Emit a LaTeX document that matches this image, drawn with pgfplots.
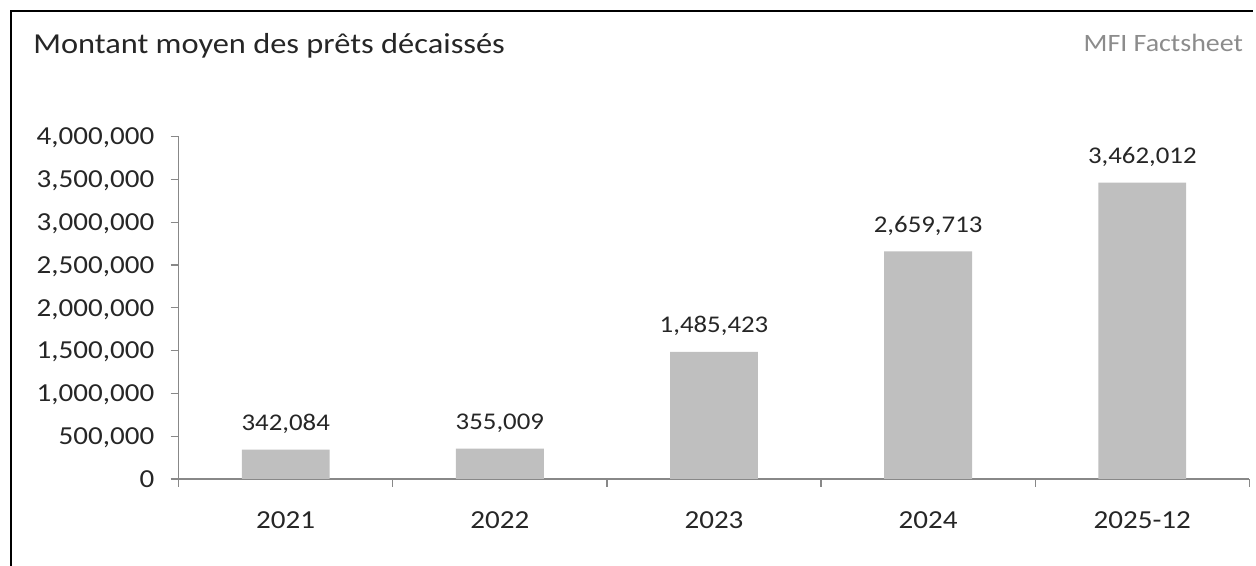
\documentclass[border=0pt]{standalone}
\usepackage{fontspec}
\setmainfont{Carlito}[FakeStretch=1.12]
\usepackage{pgfplots}
\pgfplotsset{compat=1.18}
\definecolor{bargray}{HTML}{BFBFBF}
\definecolor{axgray}{HTML}{888888}
\definecolor{mfigray}{HTML}{8C8C8C}
\begin{document}
\begin{tikzpicture}
\begin{axis}[
  at={(0pt,0pt)}, anchor=south west, scale only axis,
  width=536.5pt, height=171.5pt,
  xmin=-0.5, xmax=4.5, ymin=0, ymax=4000000,
  axis x line=bottom, axis y line=left,
  axis line style={axgray, -, line width=0.6pt},
  tick style={axgray, line width=0.6pt},
  tick align=outside,
  major tick length=4pt,
  /pgf/number format/assume math mode=true,
  /pgf/number format/fixed,
  /pgf/number format/precision=0,
  /pgf/number format/1000 sep={,},
  ytick={0,500000,1000000,1500000,2000000,2500000,3000000,3500000,4000000},
  scaled y ticks=false,
  yticklabel style={anchor=base east, inner sep=0pt, xshift=-8pt, yshift=-4.1pt, font=\fontsize{13}{15}\selectfont, text=black!85},
  xtick={-0.5,0.5,1.5,2.5,3.5,4.5},
  xticklabels={},
  extra x ticks={0,1,2,3,4},
  extra x tick labels={2021,2022,2023,2024,2025-12},
  extra x tick style={major tick length=0pt, xticklabel style={anchor=base, inner sep=0pt, yshift=-25pt, font=\fontsize{13}{15}\selectfont, text=black!85}},
  ybar, bar width=44pt,
  nodes near coords,
  every node near coord/.append style={anchor=base, inner sep=0pt, yshift=9.5pt, font=\fontsize{12}{14}\selectfont, text=black!85},
  clip=false,
]
\addplot[fill=bargray, draw=none] coordinates {(0,342084) (1,355009) (2,1485423) (3,2659713) (4,3462012)};
\end{axis}
\begin{scope}[shift={(-89.5pt,240pt)}, x=1pt, y=1pt]
\path[use as bounding box] (0,0) rectangle (628,-283.5);
\draw[black, line width=1pt] (5.5,-283.5) -- (5.5,-5.5) -- (628,-5.5);
\node[anchor=base west, inner sep=0pt, font=\fontsize{14.5}{16}\selectfont, text=black!85] at (16.5,-27) {Montant moyen des prêts décaissés};
\node[anchor=base east, inner sep=0pt, font=\fontsize{12.5}{15}\selectfont, text=mfigray] at (623,-26) {MFI Factsheet};
\end{scope}
\end{tikzpicture}
\end{document}
